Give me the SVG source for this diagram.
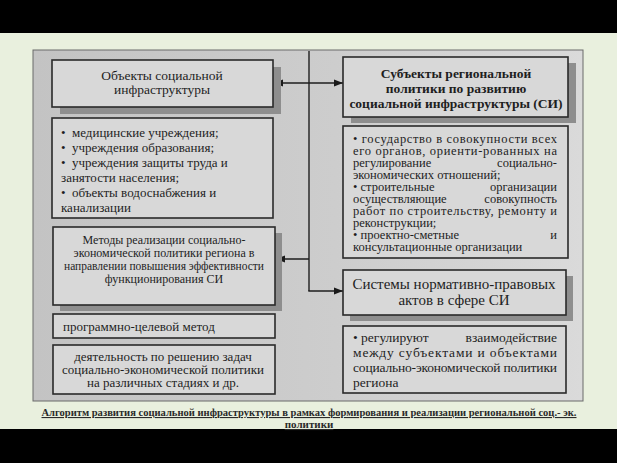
<svg xmlns="http://www.w3.org/2000/svg" width="617" height="463" viewBox="0 0 617 463">
<defs>
<linearGradient id="pg" x1="0" y1="0" x2="1" y2="0">
<stop offset="0" stop-color="#c3c3c3"/>
<stop offset="0.55" stop-color="#cdcdcd"/>
<stop offset="1" stop-color="#dadada"/>
</linearGradient>
<marker id="ah" viewBox="0 0 10 10" refX="10" refY="5" markerWidth="9" markerHeight="9" markerUnits="userSpaceOnUse" orient="auto">
<path d="M0,1 L10,5 L0,9 z" fill="#1a1a1a"/>
</marker>
<style>
.box{fill:#d8d8d8;stroke:#2a2a2a;stroke-width:1.6}
.sh{fill:#8e8e8e}
.t{font-family:"Liberation Serif","Times New Roman",serif;fill:#1e1e1e}
.c{text-anchor:middle}
.e{text-anchor:end}
.b{font-weight:bold}
.con{stroke:#1e1e1e;stroke-width:1.4;fill:none}
.cap{font-family:"Liberation Serif","Times New Roman",serif;font-weight:bold;font-size:11px;fill:#2a2a2a;text-decoration:underline;text-anchor:middle}
</style>
</defs>
<rect x="0" y="0" width="617" height="463" fill="#e9f0de"/>
<rect x="0" y="0" width="617" height="33" fill="#000"/>
<rect x="0" y="429" width="617" height="34" fill="#000"/>
<rect x="33" y="50" width="550" height="351" fill="url(#pg)" stroke="#6a6a6a" stroke-width="1"/>

<g id="connectors">
<line class="con" x1="309" y1="51" x2="309" y2="291"/>
<line class="con" x1="309" y1="83" x2="274" y2="83" marker-end="url(#ah)"/>
<line class="con" x1="309" y1="83" x2="343" y2="83" marker-end="url(#ah)"/>
<line class="con" x1="309" y1="259" x2="276" y2="259" marker-end="url(#ah)"/>
<line class="con" x1="308.3" y1="291" x2="343" y2="291" marker-end="url(#ah)"/>
</g>

<g id="objects">
<rect class="sh" x="60" y="67" width="221" height="47"/>
<rect class="box" x="52" y="60" width="221" height="47"/>
<text class="t c" x="162" y="79.5" font-size="13.5">Объекты социальной</text>
<text class="t c" x="162" y="94" font-size="13.5">инфраструктуры</text>
</g>

<g id="objects-list">
<rect class="box" x="52" y="118" width="221" height="100"/>
<g class="t" font-size="13">
<text x="61" y="137">•</text><text x="72" y="137">медицинские учреждения;</text>
<text x="61" y="152">•</text><text x="72" y="152">учреждения образования;</text>
<text x="61" y="167">•</text><text x="72" y="167">учреждения защиты труда и</text>
<text x="61" y="182">занятости населения;</text>
<text x="61" y="197">•</text><text x="72" y="197">объекты водоснабжения и</text>
<text x="61" y="212">канализации</text>
</g>
</g>

<g id="methods">
<rect class="sh" x="60" y="233" width="222" height="78"/>
<rect class="box" x="53" y="227" width="222" height="78"/>
<g class="t c" font-size="12">
<text x="164" y="244">Методы реализации социально-</text>
<text x="164" y="257">экономической политики региона в</text>
<text x="164" y="270" textLength="200" lengthAdjust="spacingAndGlyphs">направлении повышения эффективности</text>
<text x="164" y="283">функционирования СИ</text>
</g>
</g>

<g id="program-method">
<rect class="box" x="53" y="314" width="222" height="24"/>
<text class="t" x="63" y="331" font-size="13">программно-целевой метод</text>
</g>

<g id="activity">
<rect class="box" x="53" y="345" width="222" height="49"/>
<g class="t c" font-size="13">
<text x="163" y="361">деятельность по решению задач</text>
<text x="163" y="374">социально-экономической политики</text>
<text x="163" y="387">на различных стадиях и др.</text>
</g>
</g>

<g id="subjects">
<rect class="sh" x="351" y="63" width="225" height="60"/>
<rect class="box" x="343" y="57" width="225" height="60"/>
<g class="t c b" font-size="13.5">
<text x="456" y="78">Субъекты региональной</text>
<text x="456" y="93">политики по развитию</text>
<text x="456" y="108">социальной инфраструктуры (СИ)</text>
</g>
</g>

<g id="subjects-list">
<rect class="box" x="343" y="126" width="225" height="132"/>
<g class="t" font-size="12.5">
<text x="353" y="143" textLength="204" lengthAdjust="spacing">• государство в совокупности всех</text>
<text x="353" y="155" textLength="204" lengthAdjust="spacing">его органов, ориенти-рованных на</text>
<text x="353" y="167">регулирование</text><text class="e" x="557" y="167">социально-</text>
<text x="353" y="179">экономических отношений;</text>
<text x="353" y="191">• строительные</text><text class="e" x="557" y="191">организации</text>
<text x="353" y="203">осуществляющие</text><text class="e" x="557" y="203">совокупность</text>
<text x="353" y="215" textLength="204" lengthAdjust="spacing">работ по строительству, ремонту и</text>
<text x="353" y="227">реконструкции;</text>
<text x="353" y="239">• проектно-сметные</text><text class="e" x="557" y="239">и</text>
<text x="353" y="251">консультационные организации</text>
</g>
</g>

<g id="legal-systems">
<rect class="sh" x="350" y="276" width="223" height="45"/>
<rect class="box" x="343" y="270" width="223" height="45"/>
<g class="t c" font-size="15">
<text x="454" y="289">Системы нормативно-правовых</text>
<text x="454" y="305">актов в сфере СИ</text>
</g>
</g>

<g id="legal-list">
<rect class="box" x="343" y="326" width="223" height="67"/>
<g class="t" font-size="13.5">
<text x="353" y="342">• регулируют</text><text class="e" x="557" y="342">взаимодействие</text>
<text x="353" y="357" textLength="204" lengthAdjust="spacing">между субъектами и объектами</text>
<text x="353" y="372" textLength="204" lengthAdjust="spacing">социально-экономической политики</text>
<text x="353" y="387">региона</text>
</g>
</g>

<g id="caption">
<text class="cap" x="309" y="416" textLength="535" lengthAdjust="spacingAndGlyphs">Алгоритм развития социальной инфраструктуры в рамках формирования и реализации региональной соц.- эк.</text>
<text class="cap" x="309" y="428">политики</text>
</g>
</svg>
